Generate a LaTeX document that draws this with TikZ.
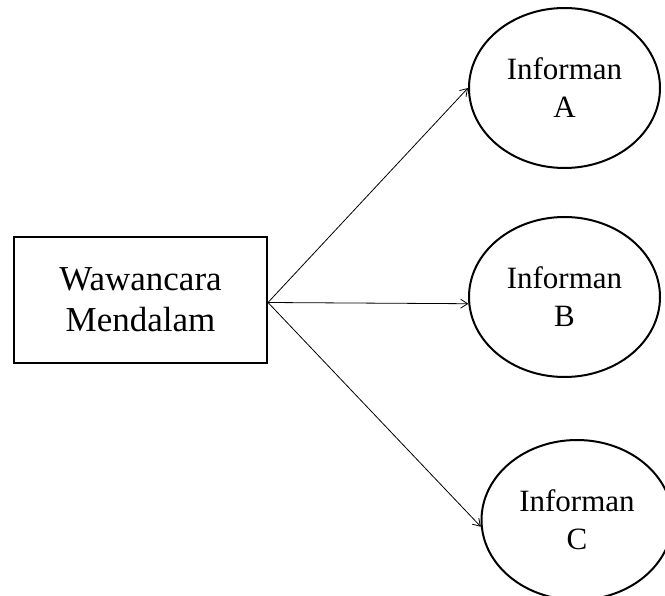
\documentclass[tikz,border=0pt]{standalone}
\usepackage{fontspec}
\setmainfont{Liberation Serif}
\usetikzlibrary{arrows.meta,shapes.geometric}
\begin{document}
\begin{tikzpicture}[x=1pt,y=-1pt,
  infobox/.style={ellipse,draw,line width=2pt,minimum width=191pt,minimum height=160pt,inner sep=0pt,align=center,font=\fontsize{31}{38}\selectfont},
  mainbox/.style={rectangle,draw,line width=2pt,minimum width=253pt,minimum height=126pt,inner sep=0pt,align=center,font=\fontsize{35}{41}\selectfont},
  arr/.style={line width=0.8pt,-{Straight Barb[length=7pt,width=9pt]}}]
\useasboundingbox (0,0) rectangle (665,596);
\node[mainbox] (w) at (140.5,300) {Wawancara\\Mendalam};
\node[infobox] (a) at (564.5,88) {Informan\\A};
\node[infobox] (b) at (564.5,297) {Informan\\B};
\node[infobox] (c) at (577,520) {Informan\\C};
\coordinate (ws) at ([yshift=-2.5pt]w.east);
\draw[arr] (ws) -- (a.west);
\draw[arr] (ws) -- (b.184);
\draw[arr] (ws) -- (c.184);
\end{tikzpicture}
\end{document}
